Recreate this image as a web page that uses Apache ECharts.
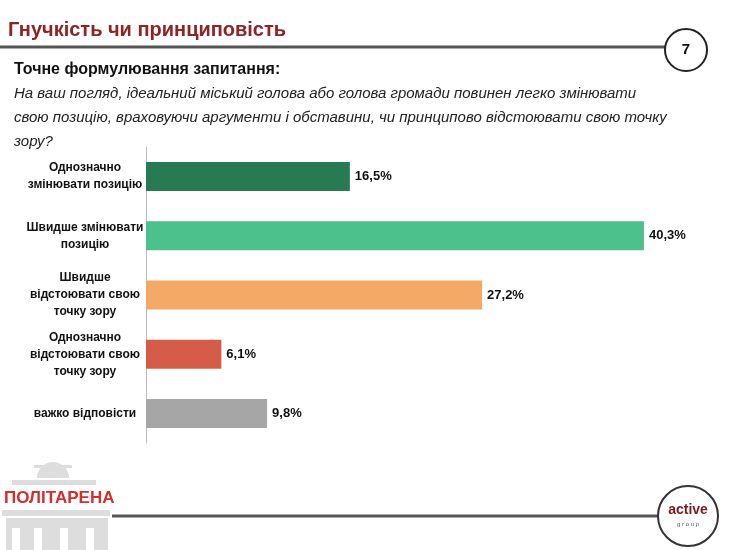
<!DOCTYPE html>
<html><head><meta charset="utf-8">
<script src="https://cdn.jsdelivr.net/npm/echarts@6/dist/echarts.min.js"></script>
<style>html,body{margin:0;padding:0;background:#fff}#c{width:740px;height:550px}</style>
</head><body><div id="c"></div>
<script>
var categories = ["Однозначно\nзмінювати позицію", "Швидше змінювати\nпозицію", "Швидше\nвідстоювати свою\nточку зору", "Однозначно\nвідстоювати свою\nточку зору", "важко відповісти"];
var values = [16.5, 40.3, 27.2, 6.1, 9.8];
var colors = ["#287A52", "#4DC18B", "#F4AA66", "#D65C4A", "#A6A6A6"];

var chart = echarts.init(document.getElementById("c"));
var font = "Liberation Sans";
chart.setOption({
  animation: false,
  grid: { left: 146, top: 147, width: 556, height: 296 },
  xAxis: { type: "value", min: 0, max: 45, show: false },
  yAxis: {
    type: "category", inverse: true, data: categories,
    axisLine: { lineStyle: { color: "#bbb" } }, axisTick: { show: false },
    axisLabel: { margin: 61, align: "center", color: "#111", fontFamily: font, fontWeight: "bold", fontSize: 12, lineHeight: 17 }
  },
  series: [{
    type: "bar", barWidth: 29,
    data: values.map(function (v, i) { return { value: v, itemStyle: { color: colors[i] } }; }),
    label: { show: true, position: "right", distance: 5, fontFamily: font, fontWeight: "bold", fontSize: 13, color: "#111",
      formatter: function (p) { return p.value.toFixed(1).replace(".", ",") + "%"; } }
  }],
  graphic: [
    { type: "text", left: 8, top: 20, style: { text: "Гнучкість чи принциповість", font: "bold 20px " + font, fill: "#8E2424" } },
    { type: "line", shape: { x1: 0, y1: 47, x2: 666, y2: 47 }, style: { stroke: "#555", lineWidth: 3 } },
    { type: "circle", shape: { cx: 686, cy: 50, r: 21 }, style: { fill: "#fff", stroke: "#222", lineWidth: 2 } },
    { type: "text", x: 686, y: 50, style: { text: "7", font: "bold 15px " + font, fill: "#111", align: "center", verticalAlign: "middle" } },
    { type: "text", left: 14, top: 62, style: { text: "Точне формулювання запитання:", font: "bold 16px " + font, fill: "#111" } },
    { type: "text", left: 14, top: 82, style: { text: "На ваш погляд, ідеальний міський голова або голова громади повинен легко змінювати\nсвою позицію, враховуючи аргументи і обставини, чи принципово відстоювати свою точку\nзору?", font: "italic 15px " + font, fill: "#222", lineHeight: 24 } },
    // logo
    { type: "rect", shape: { x: 34, y: 465, width: 38, height: 3 }, style: { fill: "#ddd" } },
    { type: "sector", shape: { cx: 53, cy: 478, r: 16, startAngle: Math.PI, endAngle: 2 * Math.PI }, style: { fill: "#ddd" } },
    { type: "rect", shape: { x: 12, y: 480, width: 84, height: 5 }, style: { fill: "#ddd" } },
    { type: "text", left: 4, top: 490, style: { text: "ПОЛІТАРЕНА", font: "bold 17px " + font, fill: "#D32F2F" } },
    { type: "rect", shape: { x: 2, y: 510, width: 108, height: 6 }, style: { fill: "#ddd" } },
    { type: "rect", shape: { x: 6, y: 518, width: 102, height: 32 }, style: { fill: "#ddd" } },
    { type: "rect", shape: { x: 12, y: 528, width: 8, height: 22 }, style: { fill: "#fff" } },
    { type: "rect", shape: { x: 34, y: 528, width: 8, height: 22 }, style: { fill: "#fff" } },
    { type: "rect", shape: { x: 60, y: 528, width: 8, height: 22 }, style: { fill: "#fff" } },
    { type: "rect", shape: { x: 86, y: 528, width: 8, height: 22 }, style: { fill: "#fff" } },
    { type: "line", shape: { x1: 112, y1: 516, x2: 658, y2: 516 }, style: { stroke: "#555", lineWidth: 3 } },
    { type: "circle", shape: { cx: 688, cy: 516, r: 30 }, style: { fill: "#fff", stroke: "#333", lineWidth: 2 } },
    { type: "text", x: 688, y: 510, style: { text: "active", font: "bold 14px " + font, fill: "#7A1A1A", align: "center", verticalAlign: "middle" } },
    { type: "text", x: 688, y: 524, style: { text: "g r o u p", font: "6px " + font, fill: "#555", align: "center", verticalAlign: "middle" } }
  ]
});
</script></body></html>
